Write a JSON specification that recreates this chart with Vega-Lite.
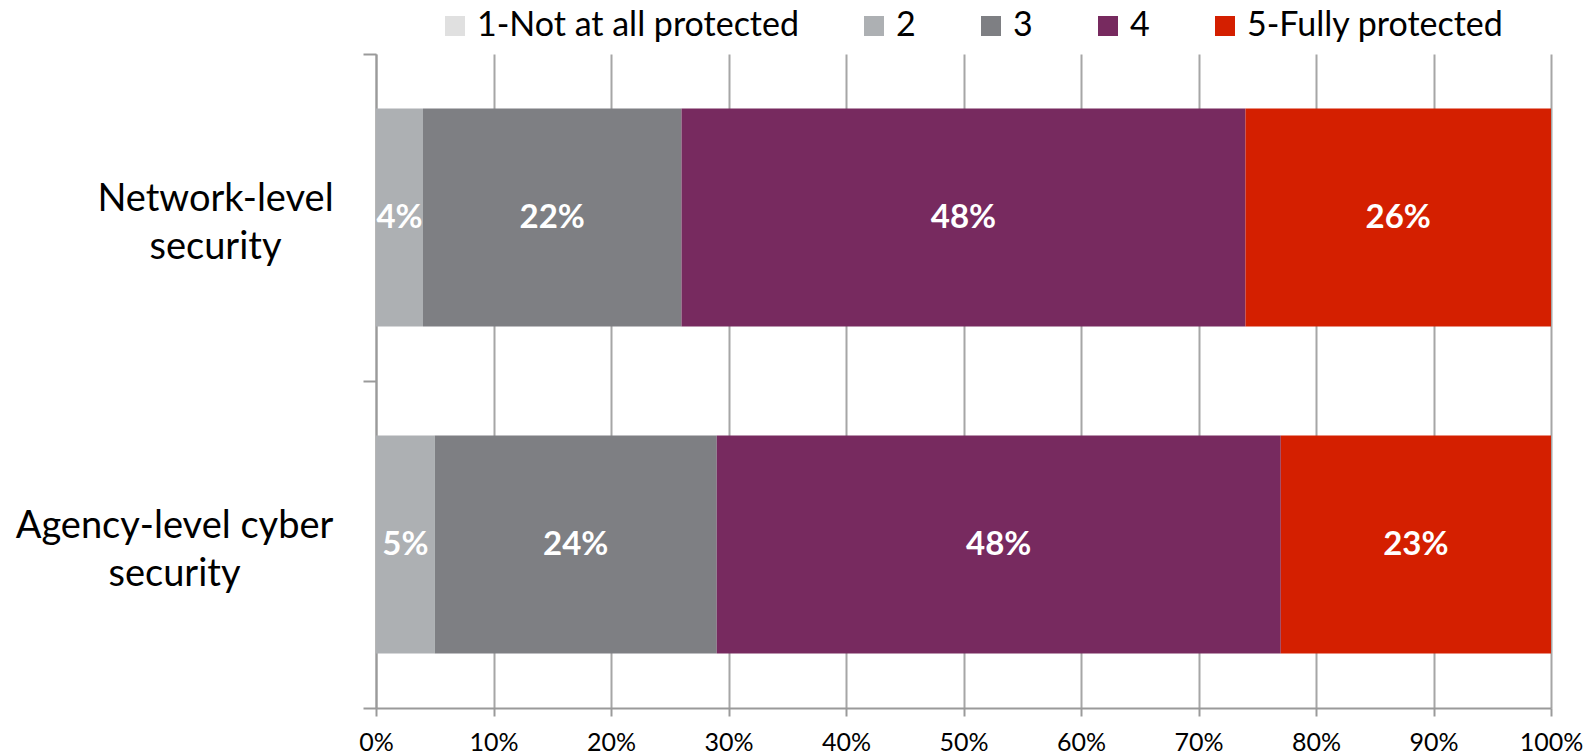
{
  "$schema": "https://vega.github.io/schema/vega-lite/v6.json",
  "width": 1175,
  "height": 654,
  "autosize": {"type": "none"},
  "padding": {"left": 376, "top": 54, "right": 38, "bottom": 48},
  "background": "white",
  "config": {"view": {"stroke": null}, "font": "Lato"},
  "data": {
    "values": [
      {"item": "Network-level security", "rating": "1-Not at all protected", "pct": 0},
      {"item": "Network-level security", "rating": "2", "pct": 0.04},
      {"item": "Network-level security", "rating": "3", "pct": 0.22},
      {"item": "Network-level security", "rating": "4", "pct": 0.48},
      {"item": "Network-level security", "rating": "5-Fully protected", "pct": 0.26},
      {"item": "Agency-level cyber security", "rating": "1-Not at all protected", "pct": 0},
      {"item": "Agency-level cyber security", "rating": "2", "pct": 0.05},
      {"item": "Agency-level cyber security", "rating": "3", "pct": 0.24},
      {"item": "Agency-level cyber security", "rating": "4", "pct": 0.48},
      {"item": "Agency-level cyber security", "rating": "5-Fully protected", "pct": 0.23}
    ]
  },
  "encoding": {
    "y": {
      "field": "item",
      "type": "nominal",
      "sort": ["Network-level security", "Agency-level cyber security"],
      "scale": {"paddingInner": 0, "paddingOuter": 0},
      "title": null,
      "axis": {
        "tickBand": "extent",
        "domainColor": "#9a9a9a",
        "domainWidth": 2,
        "tickColor": "#9a9a9a",
        "tickWidth": 2,
        "tickSize": 13,
        "labelFont": "Lato",
        "labelFontSize": 38,
        "labelColor": "#000000",
        "labelAlign": "center",
        "labelBaseline": "middle",
        "labelLineHeight": 48,
        "labelLimit": 0,
        "labelOffset": -18,
        "labelPadding": {"condition": {"test": "datum.value == 'Network-level security'", "value": 148}, "value": 189},
        "labelExpr": "datum.value == 'Network-level security' ? ['Network-level', 'security'] : datum.value == 'Agency-level cyber security' ? ['Agency-level cyber', 'security'] : ''"
      }
    }
  },
  "layer": [
    {
      "mark": {"type": "bar", "height": {"band": 0.667}},
      "encoding": {
        "x": {
          "field": "pct",
          "type": "quantitative",
          "stack": "zero",
          "scale": {"domain": [0, 1], "nice": false},
          "title": null,
          "axis": {
            "format": ".0%",
            "values": [0, 0.1, 0.2, 0.3, 0.4, 0.5, 0.6, 0.7, 0.8, 0.9, 1],
            "grid": true,
            "gridColor": "#a6a6a6",
            "gridWidth": 2,
            "domainColor": "#9a9a9a",
            "domainWidth": 2,
            "tickColor": "#9a9a9a",
            "tickWidth": 2,
            "tickSize": 8,
            "labelFont": "Lato",
            "labelFontSize": 25,
            "labelColor": "#000000",
            "labelPadding": 14,
            "labelFlush": false
          }
        },
        "order": {"field": "rating", "type": "nominal"},
        "color": {
          "field": "rating",
          "type": "nominal",
          "scale": {
            "domain": ["1-Not at all protected", "2", "3", "4", "5-Fully protected"],
            "range": ["#e0e0e0", "#adb0b3", "#7e7f83", "#772a5f", "#d41f00"]
          },
          "legend": {
            "title": null,
            "orient": "none",
            "legendX": 62,
            "legendY": -45,
            "direction": "horizontal",
            "columns": 5,
            "padding": 0,
            "symbolType": "square",
            "symbolSize": 400,
            "symbolStrokeWidth": 0,
            "symbolOpacity": 1,
            "labelFont": "Lato",
            "labelFontSize": 34,
            "labelColor": "#000000",
            "labelOffset": 5,
            "columnPadding": 58,
            "labelLimit": 600
          }
        }
      }
    },
    {
      "transform": [{"filter": "datum.pct > 0"}],
      "mark": {"type": "text", "color": "white", "font": "Lato", "fontWeight": "bold", "fontSize": 33, "align": "center", "baseline": "middle"},
      "encoding": {
        "x": {"field": "pct", "type": "quantitative", "stack": "zero", "bandPosition": 0.5},
        "order": {"field": "rating", "type": "nominal"},
        "detail": {"field": "rating", "type": "nominal"},
        "text": {"field": "pct", "type": "quantitative", "format": ".0%"}
      }
    }
  ]
}
